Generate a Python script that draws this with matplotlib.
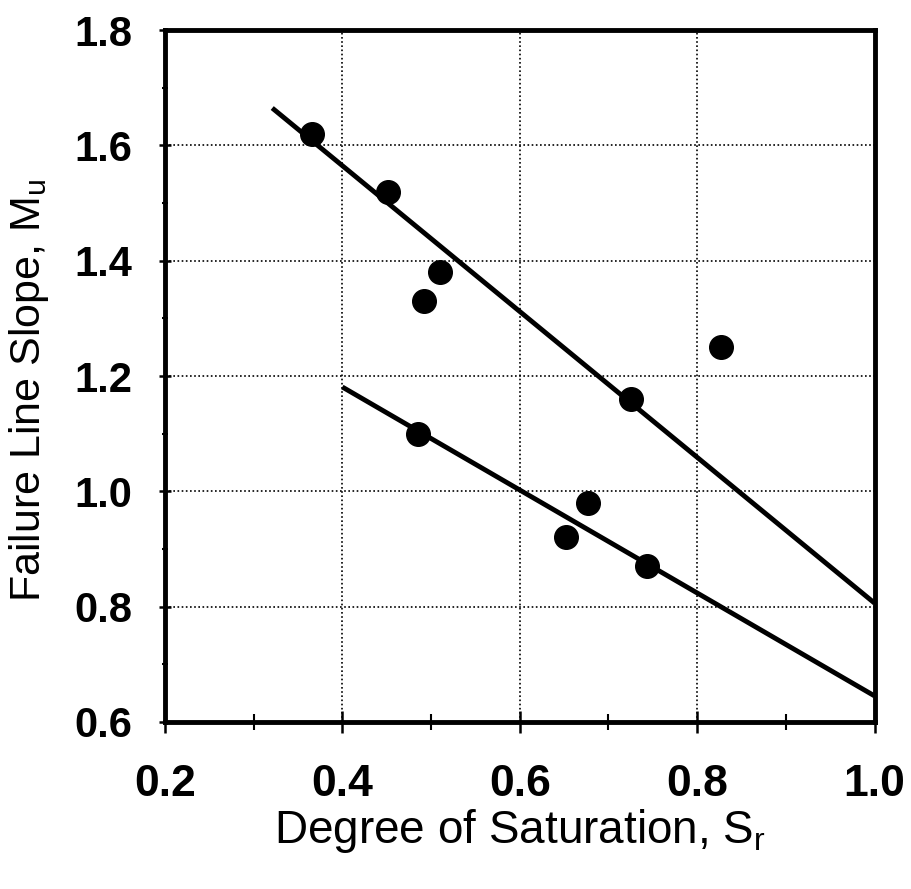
import matplotlib
matplotlib.use("Agg")
import matplotlib.pyplot as plt
from matplotlib.ticker import MultipleLocator

# Data points (Degree of saturation vs failure line slope)
sat = [0.366, 0.452, 0.492, 0.510, 0.827, 0.726, 0.485, 0.652, 0.677, 0.744]
slope = [1.62, 1.52, 1.33, 1.38, 1.25, 1.16, 1.10, 0.92, 0.98, 0.87]

# Fitted lines (endpoints)
upper_x = [0.321, 1.0]
upper_y = [1.665, 0.806]
lower_x = [0.40, 1.0]
lower_y = [1.181, 0.645]

xticks = [0.2, 0.4, 0.6, 0.8, 1.0]
yticks = [0.6, 0.8, 1.0, 1.2, 1.4, 1.6, 1.8]

plt.rcParams['font.family'] = ['Liberation Sans', 'DejaVu Sans']

fig = plt.figure(figsize=(9.11, 8.89), dpi=100)
ax = fig.add_axes([0.181, 0.188, 0.779, 0.778])

ax.plot(upper_x, upper_y, color='black', lw=3.5, solid_capstyle='butt', zorder=3)
ax.plot(lower_x, lower_y, color='black', lw=3.5, solid_capstyle='butt', zorder=3)
ax.plot(sat, slope, 'o', color='black', markersize=17, zorder=4, clip_on=False)

ax.set_xlim(0.2, 1.0)
ax.set_ylim(0.6, 1.8)
ax.set_xticks(xticks)
ax.set_yticks(yticks)
ax.set_xticklabels([f"{v:.1f}" for v in xticks], fontsize=32, fontweight='bold')
ax.set_yticklabels([f"{v:.1f}" for v in yticks], fontsize=30, fontweight='bold')
ax.xaxis.set_minor_locator(MultipleLocator(0.1))
ax.yaxis.set_minor_locator(MultipleLocator(0.1))

ax.tick_params(axis='x', which='major', direction='inout', length=16, width=1.8, pad=22)
ax.tick_params(axis='x', which='minor', direction='inout', length=11, width=1.5)
ax.tick_params(axis='y', which='major', direction='inout', length=9, width=1.8, pad=19)
ax.tick_params(axis='y', which='minor', direction='inout', length=5, width=1.5)

for s in ax.spines.values():
    s.set_linewidth(3.5)
    s.set_color('black')

ax.grid(True, which='major', linestyle=(0, (1, 1.5)), color='black', linewidth=1.2, zorder=1)

ax.set_xlabel("Degree of Saturation, S$_\\mathregular{r}$", fontsize=33, labelpad=2)
ax.set_ylabel("Failure Line Slope, M$_\\mathregular{u}$", fontsize=31)
ax.yaxis.set_label_coords(-0.160, 0.48)

fig.savefig("out.png", dpi=100)
